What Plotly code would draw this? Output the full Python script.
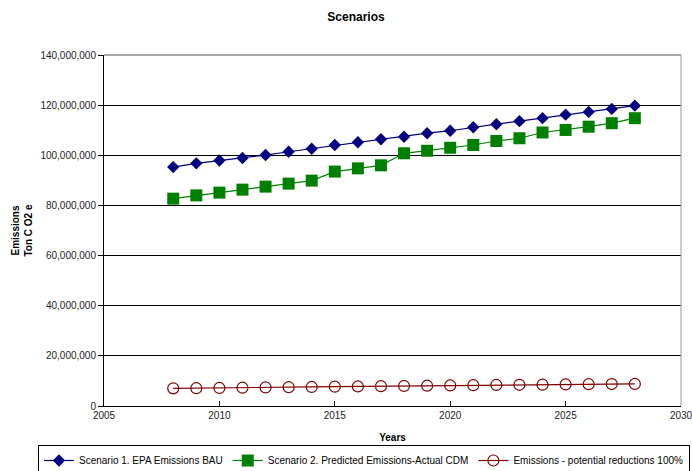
import plotly.graph_objects as go

years = list(range(2008, 2029))
bau = [95.3e6, 96.8e6, 97.9e6, 98.9e6, 100.1e6, 101.4e6, 102.6e6, 104.1e6, 105.2e6, 106.4e6,
       107.4e6, 108.8e6, 109.8e6, 111.2e6, 112.4e6, 113.6e6, 114.8e6, 116.2e6, 117.3e6, 118.5e6, 119.8e6]
cdm = [82.7e6, 84.0e6, 85.1e6, 86.3e6, 87.5e6, 88.7e6, 89.9e6, 93.5e6, 94.8e6, 96.0e6,
       100.8e6, 101.8e6, 103.0e6, 104.1e6, 105.7e6, 106.8e6, 109.1e6, 110.1e6, 111.4e6, 112.8e6, 114.8e6]
red = [7.05e6, 7.1e6, 7.2e6, 7.3e6, 7.4e6, 7.5e6, 7.6e6, 7.7e6, 7.8e6, 7.9e6,
       8.0e6, 8.1e6, 8.2e6, 8.3e6, 8.4e6, 8.45e6, 8.5e6, 8.6e6, 8.7e6, 8.75e6, 8.8e6]
x_ticks = [2005, 2010, 2015, 2020, 2025, 2030]

names = ["Scenario 1. EPA Emissions BAU",
         "Scenario 2. Predicted Emissions-Actual CDM",
         "Emissions - potential reductions 100%"]

fig = go.Figure()
fig.add_trace(go.Scatter(x=years, y=bau, name=names[0], mode="lines+markers",
                         line=dict(color="#000080", width=1.2),
                         marker=dict(symbol="diamond", size=9.5, color="#000080")))
fig.add_trace(go.Scatter(x=years, y=cdm, name=names[1], mode="lines+markers",
                         line=dict(color="#008000", width=1.2),
                         marker=dict(symbol="square", size=12, color="#008000")))
fig.add_trace(go.Scatter(x=years, y=red, name=names[2], mode="lines+markers",
                         line=dict(color="#800000", width=1.2),
                         marker=dict(symbol="circle-open", size=11, color="#800000",
                                     line=dict(width=1.2, color="#800000"))))

fig.update_layout(
    width=692, height=471,
    margin=dict(l=104, r=11, t=55, b=65, autoexpand=False),
    paper_bgcolor="white", plot_bgcolor="white",
    font=dict(family="Arial, Liberation Sans", size=10, color="#222"),
    title=dict(text="<b>Scenarios</b>", x=356/692, xanchor="center", y=1-17/471, yanchor="middle",
               font=dict(size=12, color="black")),
    showlegend=True,
    legend=dict(orientation="h", x=(38-104)/577, xanchor="left", y=(406-445)/351, yanchor="top",
                bordercolor="black", borderwidth=1, font=dict(size=10, color="black"),
                itemwidth=30, tracegroupgap=0, itemsizing="trace"),
    xaxis=dict(range=[2005, 2030], tickvals=x_ticks, showgrid=False, showline=True,
               linecolor="black", linewidth=1, ticks="inside", ticklen=5, tickcolor="black",
               zeroline=False, ticklabeloverflow="allow",
               title=dict(text="<b>Years</b>", font=dict(size=10, color="black"), standoff=13)),
    yaxis=dict(range=[0, 140e6], dtick=20e6, tickformat=",", showgrid=True, gridcolor="black",
               gridwidth=1, showline=True, linecolor="black", linewidth=1, ticks="outside",
               ticklen=5, tickcolor="black", zeroline=False,
               title=dict(text="<b>Emissions<br>Ton C O2 e</b>", font=dict(size=10, color="black"),
                          standoff=5)),
    shapes=[
        dict(type="line", xref="paper", yref="paper", x0=0, x1=1, y0=1, y1=1,
             line=dict(color="#555", width=1.2)),
        dict(type="line", xref="paper", yref="paper", x0=1, x1=1, y0=0, y1=1,
             line=dict(color="#999", width=1)),
    ],
)

fig.write_html("out.html")
